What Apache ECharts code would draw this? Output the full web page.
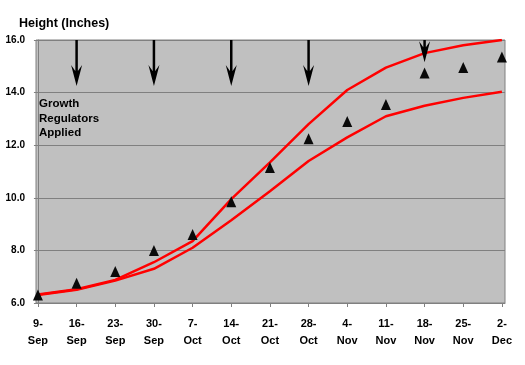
<!DOCTYPE html>
<html>
<head>
<meta charset="utf-8">
<script src="https://cdn.jsdelivr.net/npm/echarts@6/dist/echarts.min.js"></script>
<style>
html,body{margin:0;padding:0;background:#fff;}
#chart{width:525px;height:365px;}
</style>
</head>
<body>
<div id="chart"></div>
<script>
// ---- data ----
var categories = ['9-\nSep','16-\nSep','23-\nSep','30-\nSep','7-\nOct','14-\nOct','21-\nOct','28-\nOct','4-\nNov','11-\nNov','18-\nNov','25-\nNov','2-\nDec'];
var measuredHeight = [6.3, 6.75, 7.2, 8.0, 8.6, 9.85, 11.15, 12.25, 12.9, 13.55, 14.75, 14.95, 15.35];
var upperLimit = [6.32, 6.52, 6.88, 7.55, 8.35, 9.95, 11.35, 12.8, 14.1, 14.95, 15.5, 15.8, 16.0];
var lowerLimit = [6.3, 6.5, 6.85, 7.3, 8.1, 9.15, 10.25, 11.4, 12.3, 13.1, 13.5, 13.8, 14.03];
var applicationIndex = [1, 3, 5, 7, 10];
var arrowTipValue = [14.25, 14.25, 14.25, 14.25, 15.15];

var idx = categories.map(function(_, i){ return i; });
function pairs(vals){ return vals.map(function(v, i){ return [i, v]; }); }

var chart = echarts.init(document.getElementById('chart'), null, {renderer:'canvas'});
var font = '"Liberation Sans", Arial, sans-serif';

var option = {
  animation: false,
  backgroundColor: '#ffffff',
  title: [
    { text: 'Height (Inches)', left: 14, top: 12,
      textStyle: { fontFamily: font, fontSize: 12.5, fontWeight: 'bold', color: '#000' } },
    { text: 'Growth\nRegulators\nApplied', left: 34, top: 92,
      textStyle: { fontFamily: font, fontSize: 11.5, fontWeight: 'bold', color: '#000', lineHeight: 14.5 } }
  ],
  grid: { left: 36, right: 20, top: 40, bottom: 62, show: true,
          backgroundColor: '#c0c0c0', borderColor: '#808080', borderWidth: 1 },
  xAxis: {
    type: 'value', min: -0.05, max: 12.08,
    axisLine: { show: true, lineStyle: { color: '#808080', width: 1 } },
    axisTick: { show: true, length: 4, customValues: idx, lineStyle: { color: '#808080' } },
    axisLabel: { customValues: idx, formatter: function(v){ return categories[Math.round(v)]; },
                 fontFamily: font, fontSize: 11, fontWeight: 'bold', color: '#000',
                 lineHeight: 17, margin: 12 },
    splitLine: { show: false }
  },
  yAxis: {
    type: 'value', min: 6, max: 16, interval: 2,
    axisLine: { show: true, lineStyle: { color: '#808080', width: 1 } },
    axisTick: { show: true, length: 4, lineStyle: { color: '#808080' } },
    axisLabel: { formatter: function(v){ return v.toFixed(1); },
                 fontFamily: font, fontSize: 10, fontWeight: 'bold', color: '#000', margin: 11 },
    splitLine: { show: true, lineStyle: { color: '#808080', width: 1.2 } }
  },
  series: [
    { type: 'line', data: pairs(upperLimit), showSymbol: false, symbol: 'none',
      lineStyle: { color: '#ff0000', width: 2.5 }, z: 2 },
    { type: 'line', data: pairs(lowerLimit), showSymbol: false, symbol: 'none',
      lineStyle: { color: '#ff0000', width: 2.5 }, z: 2 },
    { type: 'scatter', data: pairs(measuredHeight), symbol: 'triangle', symbolSize: [10, 11],
      itemStyle: { color: '#0a0a0a', opacity: 1 }, z: 3 },
    { type: 'custom', z: 4,
      data: applicationIndex.map(function(i, k){ return [i, arrowTipValue[k]]; }),
      renderItem: function(params, api){
        var top = api.coord([api.value(0), 16]);
        var tip = api.coord([api.value(0), api.value(1)]);
        var x = tip[0], y = tip[1];
        return { type: 'group', children: [
          { type: 'line', shape: { x1: top[0], y1: top[1], x2: x, y2: y - 13 },
            style: { stroke: '#000', lineWidth: 2.5 } },
          { type: 'polygon', shape: { points: [[x, y], [x - 5.5, y - 21], [x - 1.3, y - 15], [x, y - 16], [x + 1.3, y - 15], [x + 5.5, y - 21]] },
            style: { fill: '#000' } }
        ]};
      }
    }
  ]
};
chart.setOption(option);
</script>
</body>
</html>
